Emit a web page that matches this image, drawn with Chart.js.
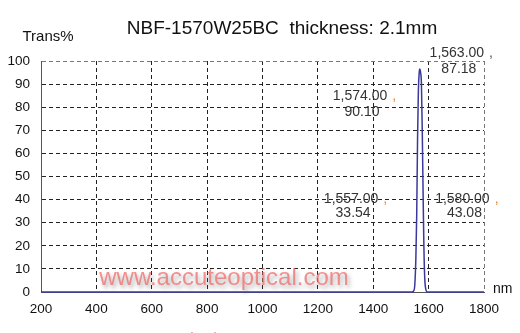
<!DOCTYPE html>
<html>
<head>
<meta charset="utf-8">
<script src="https://cdn.jsdelivr.net/npm/chart.js@4/dist/chart.umd.min.js"></script>
<style>
  html, body { margin: 0; padding: 0; background: #fff; }
  canvas { display: block; }
</style>
</head>
<body>
<canvas id="c" width="520" height="333"></canvas>
<script>
// spectrum (nm, %T)
var wavelength = [200, 400, 600, 800, 1000, 1200, 1400, 1500, 1540, 1546, 1550, 1554, 1557, 1560, 1563, 1566, 1568, 1571, 1574, 1577, 1580, 1583, 1586, 1590, 1595, 1600, 1700, 1800];
var transmission = [0, 0, 0, 0, 0, 0, 0, 0, 0, 0.5, 3, 15, 33.54, 66, 87.18, 95, 96.5, 95, 90.1, 70, 43.08, 19, 6, 1, 0, 0, 0, 0];

// measured marker labels
var noteTop = ['1,563.00', '1,574.00', '1,557.00', '1,580.00'];
var noteBottom = ['87.18', '90.10', '33.54', '43.08'];

var titleText = 'NBF-1570W25BC  thickness: 2.1mm';
var yTitle = 'Trans%';
var xTitle = 'nm';
var watermark = 'www.accuteoptical.com';

var points = [];
for (var i = 0; i < wavelength.length; i++) {
    points.push({ x: wavelength[i], y: transmission[i] });
}

// where the labels sit, in axis units (nm, %)
var noteAnchor = [
    { x: 1702, y1: 103.3, y2: 96.4 },
    { x: 1352, y1: 84.6, y2: 77.9 },
    { x: 1320, y1: 40.3, y2: 34.2 },
    { x: 1722, y1: 40.3, y2: 34.2 }
];

var textPlugin = {
    id: 'texts',
    afterDraw: function (chart) {
        var ctx = chart.ctx;
        var xs = chart.scales.x;
        var ys = chart.scales.y;
        ctx.save();
        ctx.textBaseline = 'middle';

        ctx.fillStyle = '#111';
        ctx.textAlign = 'center';
        ctx.font = '19px Arial, "Liberation Sans"';
        ctx.fillText(titleText, 282, 29);

        ctx.font = '15px Arial, "Liberation Sans"';
        ctx.fillText(yTitle, 48, 37);

        ctx.textAlign = 'left';
        ctx.font = '14px Arial, "Liberation Sans"';
        ctx.fillText(xTitle, 493, 289);

        // marker labels
        ctx.font = '14px Arial, "Liberation Sans"';
        for (var i = 0; i < noteTop.length; i++) {
            var a = noteAnchor[i];
            var px = xs.getPixelForValue(a.x);
            ctx.fillStyle = '#333';
            ctx.textAlign = 'center';
            ctx.fillText(noteTop[i], px, ys.getPixelForValue(a.y1));
            ctx.fillText(noteBottom[i], px + 2, ys.getPixelForValue(a.y2));
            var w = ctx.measureText(noteTop[i]).width;
            ctx.textAlign = 'left';
            ctx.fillStyle = i === 0 ? '#555' : '#e08a3a';
            ctx.fillText(',', px + w / 2 + 5, ys.getPixelForValue(a.y1));
        }

        // watermark
        ctx.textAlign = 'center';
        ctx.font = '24px Arial, "Liberation Sans"';
        ctx.shadowColor = 'rgba(80,80,80,0.6)';
        ctx.shadowBlur = 4;
        ctx.shadowOffsetX = 2;
        ctx.shadowOffsetY = 3;
        ctx.fillStyle = 'rgba(240,110,110,0.75)';
        ctx.fillText(watermark, 224, 278);
        ctx.shadowColor = 'transparent';
        ctx.textAlign = 'left';
        ctx.font = '18px Arial, "Liberation Sans"';
        ctx.fillStyle = 'rgba(240,110,110,0.7)';
        ctx.fillText('accuteoptical', 112, 340);
        ctx.restore();
    }
};

var ctx = document.getElementById('c').getContext('2d');
var myChart = new Chart(ctx, {
    type: 'line',
    data: {
        datasets: [{
            data: points,
            borderColor: '#3a3a9c',
            borderWidth: 1.5,
            pointRadius: 0,
            cubicInterpolationMode: 'monotone',
            clip: 3
        }]
    },
    options: {
        responsive: false,
        animation: false,
        layout: { padding: { left: 0, top: 61, right: 36, bottom: 0 } },
        plugins: {
            legend: { display: false },
            tooltip: { enabled: false }
        },
        scales: {
            x: {
                type: 'linear',
                min: 200,
                max: 1800,
                afterFit: function (s) { s.height = 41; },
                ticks: {
                    stepSize: 200,
                    padding: 9,
                    color: '#111',
                    maxRotation: 0,
                    callback: function (v) { return String(v); },
                    font: { family: 'Arial, "Liberation Sans"', size: 13.5 }
                },
                grid: {
                    drawTicks: false,
                    lineWidth: 1,
                    color: function (c) {
                        if (c.tick && c.tick.value === 200) return 'rgba(0,0,0,0)';
                        if (c.tick && c.tick.value === 1800) return '#777';
                        return '#222';
                    }
                },
                border: { display: true, color: '#555', width: 1, dash: [4, 3] }
            },
            y: {
                min: 0,
                max: 100,
                afterFit: function (s) { s.width = 41; },
                ticks: {
                    stepSize: 10,
                    padding: 11,
                    color: '#111',
                    font: { family: 'Arial, "Liberation Sans"', size: 13.5 }
                },
                grid: {
                    drawTicks: false,
                    lineWidth: 1,
                    color: function (c) {
                        if (c.tick && c.tick.value === 0) return 'rgba(0,0,0,0)';
                        if (c.tick && c.tick.value === 100) return '#777';
                        return '#222';
                    }
                },
                border: { display: true, color: '#555', width: 1, dash: [4, 3] }
            }
        }
    },
    plugins: [textPlugin]
});
</script>
</body>
</html>
